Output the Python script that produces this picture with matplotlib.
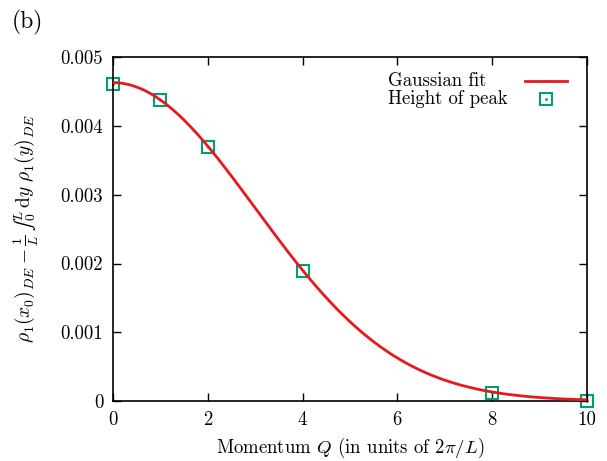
import numpy as np
import matplotlib
matplotlib.use("Agg")
import matplotlib.pyplot as plt
from matplotlib.ticker import FuncFormatter

plt.rcParams["mathtext.fontset"] = "cm"
plt.rcParams["font.family"] = ["cmr10", "DejaVu Serif"]
plt.rcParams["axes.formatter.use_mathtext"] = True
plt.rcParams["font.size"] = 13.5

# measured peak heights
momentum = [0, 1, 2, 4, 8, 10]
peak_height = [0.00461, 0.004375, 0.003695, 0.00189, 0.00012, 0.0]

# gaussian fit parameters (A exp(-Q^2 / 2 sigma^2))
fit_amplitude = 0.00463
fit_sigma = 3.0

x_ticks = [0, 2, 4, 6, 8, 10]
y_ticks = [0, 0.001, 0.002, 0.003, 0.004, 0.005]
legend_labels = ["Gaussian fit", "Height of peak"]

red = "#e41a1c"
green = "#009e73"

fig = plt.figure(figsize=(6.07, 4.61), dpi=100)
ax = fig.add_axes([0.186, 0.130, 0.781, 0.746])

q = np.linspace(0, 10, 300)
fit = fit_amplitude * np.exp(-q**2 / (2 * fit_sigma**2))

mk = dict(ls="none", marker="s", ms=8, mfc="none", mec=green, mew=1.5, clip_on=False)
ax.plot(momentum, peak_height, zorder=2, **mk)
ax.plot(momentum, peak_height, ls="none", marker=".", ms=2, color=green,
        clip_on=False, zorder=2)
ax.plot(q, fit, color=red, lw=2.0, zorder=3)

# gnuplot-style key: left-justified text, sample on the right
tr = ax.transAxes
ax.text(0.580, 0.930, legend_labels[0], transform=tr, va="center", ha="left")
ax.text(0.580, 0.878, legend_labels[1], transform=tr, va="center", ha="left")
ax.plot([0.869, 0.958], [0.930, 0.930], transform=tr, color=red, lw=2.0)
ax.plot([0.9135], [0.878], transform=tr, **mk)
ax.plot([0.9135], [0.878], transform=tr, ls="none", marker=".", ms=2, color=green)

ax.set_xlim(0, 10)
ax.set_ylim(0, 0.005)
ax.set_xticks(x_ticks)
ax.set_yticks(y_ticks)
ax.yaxis.set_major_formatter(FuncFormatter(lambda v, p: "0" if v == 0 else f"{v:.3f}"))
ax.xaxis.set_major_formatter(FuncFormatter(lambda v, p: f"{v:g}"))
ax.tick_params(direction="in", length=6, width=1, top=True, right=True, pad=7)
for s in ax.spines.values():
    s.set_linewidth(1.2)

ax.set_xlabel(r"Momentum $Q$ (in units of $2\pi/L$)", labelpad=5)
ylab = r"$\rho_1(x_0)_{DE} - \frac{1}{L}\,\u222b_0^L\, \mathrm{d}y\ \rho_1(y)_{DE}$"
ylab = ylab.replace(r"\u222b", "\u222b")
ax.set_ylabel(ylab, labelpad=14, fontsize=14)

fig.text(0.02, 0.978, "(b)", fontsize=17, va="top", ha="left")

fig.savefig("out.png", dpi=100)
